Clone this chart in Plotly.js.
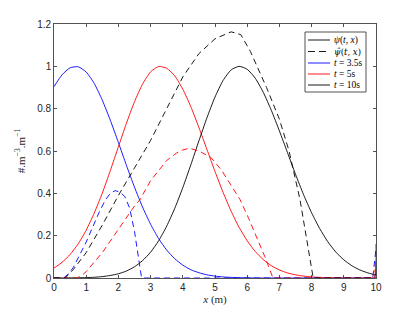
<!DOCTYPE html>
<html><head><meta charset="utf-8">
<script src="https://cdn.plot.ly/plotly-3.0.1.min.js"></script>
<style>html,body{margin:0;padding:0;background:#fff}#chart{width:415px;height:312px}</style>
</head><body><div id="chart"></div>
<script>
// shared x grid for the solid (psi) curves
const xs = [0,0.25,0.5,0.75,1,1.25,1.5,1.75,2,2.25,2.5,2.75,3,3.25,3.5,3.75,4,4.25,4.5,4.75,5,5.25,5.5,5.75,6,6.25,6.5,6.75,7,7.25,7.5,7.75,8,8.25,8.5,8.75,9,9.25,9.5,9.75,9.95,10];
const psi35 = [0.904,0.96,0.993,0.998,0.973,0.919,0.840,0.745,0.640,0.532,0.429,0.335,0.254,0.186,0.132,0.091,0.061,0.039,0.025,0.015,0.009,0.005,0.003,0.0014,0.0007,0,0,0,0,0,0,0,0,0,0,0,0,0,0,0,0,0.16];
const psi5  = [0.047,0.074,0.111,0.161,0.226,0.307,0.401,0.508,0.620,0.731,0.833,0.916,0.974,0.999,0.991,0.955,0.892,0.809,0.711,0.607,0.503,0.405,0.316,0.239,0.176,0.125,0.087,0.058,0.038,0.024,0.015,0.009,0.005,0.003,0.0015,0.001,0,0,0,0.001,0.003,0.06];
const psi10 = [0.0001,0.0002,0.0004,0.001,0.0019,0.0035,0.0066,0.012,0.020,0.033,0.053,0.082,0.122,0.176,0.245,0.329,0.427,0.535,0.648,0.757,0.855,0.933,0.983,1.0,0.986,0.944,0.877,0.792,0.695,0.593,0.490,0.394,0.308,0.234,0.172,0.123,0.086,0.058,0.038,0.024,0.016,0.015];
// psi-hat curves (dashed), each on its own x points
const xh35 = [0,0.3,0.45,0.6,0.8,1.0,1.2,1.4,1.6,1.75,1.9,2.05,2.2,2.35,2.5,2.6,2.72,6,9.9,10];
const yh35 = [0,0,0.02,0.05,0.11,0.17,0.24,0.31,0.37,0.40,0.413,0.405,0.385,0.33,0.22,0.12,0,0,0,0.14];
const xh5 = [0,0.7,0.85,1.0,1.5,2.0,2.5,2.67,3.0,3.5,3.8,4.0,4.2,4.5,4.87,5.2,5.5,5.78,6.05,6.3,6.55,6.8,9.9,10];
const yh5 = [0,0,0.01,0.03,0.12,0.23,0.34,0.37,0.46,0.555,0.59,0.605,0.613,0.60,0.57,0.51,0.44,0.37,0.28,0.19,0.10,0,0,0.08];
const xh10 = [0,0.35,0.6,1.0,1.5,2.0,2.5,3.0,3.5,4.0,4.5,5.0,5.5,5.8,6.1,6.4,6.6,7.0,7.3,7.64,7.85,8.05,10];
const yh10 = [0,0,0.04,0.12,0.25,0.39,0.52,0.65,0.8,0.95,1.06,1.13,1.163,1.15,1.07,0.97,0.9,0.75,0.6,0.37,0.18,0,0];

const xTicks = [0,1,2,3,4,5,6,7,8,9,10];
const yTicks = [0,0.2,0.4,0.6,0.8,1,1.2];
const yTickText = ['0','0.2','0.4','0.6','0.8','1','1.2'];
const legendLabels = ['<i>ψ</i>(<i>t</i>, <i>x</i>)','<i>ψ̂</i>(<i>t</i>, <i>x</i>)','<i>t</i> = 3.5s','<i>t</i> = 5s','<i>t</i> = 10s'];

const BLUE='#0000ff', RED='#ff0000', BLACK='#000000';
const DASH='6px,4px';
const traces = [
  {x:xs,y:psi35,mode:'lines',line:{color:BLUE,width:0.9,shape:'spline',smoothing:0.6}},
  {x:xs,y:psi5,mode:'lines',line:{color:RED,width:0.9,shape:'spline',smoothing:0.6}},
  {x:xs,y:psi10,mode:'lines',line:{color:BLACK,width:0.9,shape:'spline',smoothing:0.6}},
  {x:xh35,y:yh35,mode:'lines',line:{color:BLUE,width:0.9,dash:DASH}},
  {x:xh5,y:yh5,mode:'lines',line:{color:RED,width:0.9,dash:DASH}},
  {x:xh10,y:yh10,mode:'lines',line:{color:BLACK,width:0.9,dash:DASH}}
].map(t=>Object.assign(t,{showlegend:false,hoverinfo:'skip'}));

// custom legend (paper coords); plot area: x 54..376 px, y 24..278 px
const px = v => (v-54)/322, py = v => (278-v)/254;
const rows = [40,51.5,63,74,85];
const legColors = [BLACK,BLACK,BLUE,RED,BLACK];
const legDash = ['solid','7px,4px','solid','solid','solid'];
const SERIF = 'Liberation Serif, DejaVu Serif, serif';
const shapes = [{type:'rect',xref:'paper',yref:'paper',x0:px(305),x1:px(366),y0:py(92),y1:py(32),
  line:{color:'#262626',width:0.8},fillcolor:'#fff',layer:'above'}];
const annotations = [];
rows.forEach((r,i)=>{
  shapes.push({type:'line',xref:'paper',yref:'paper',x0:px(308),x1:px(330),y0:py(r),y1:py(r),
    line:{color:legColors[i],width:0.9,dash:legDash[i]},layer:'above'});
  annotations.push({xref:'paper',yref:'paper',x:px(332),y:py(r),xanchor:'left',yanchor:'middle',
    text:legendLabels[i],showarrow:false,font:{family:(i===1?'DejaVu Serif, Liberation Serif, serif':SERIF),size:(i===1?8.5:9.5),color:'#000'}});
});

const axisCommon = {showgrid:false,zeroline:false,showline:true,linecolor:'#262626',linewidth:0.8,
  mirror:'ticks',ticks:'inside',ticklen:3,tickcolor:'#262626',tickwidth:0.8,
  tickfont:{family:'Liberation Sans, Arial, sans-serif',size:10,color:'#262626'}};
const layout = {
  width:415,height:312,margin:{l:54,r:39,t:24,b:34},paper_bgcolor:'#fff',plot_bgcolor:'#fff',
  showlegend:false,
  xaxis:Object.assign({},axisCommon,{range:[0,10],tickvals:xTicks,ticktext:xTicks.map(String),
    title:{text:'<i>x</i> (m)',standoff:3,font:{family:SERIF,size:11,color:'#262626'}}}),
  yaxis:Object.assign({},axisCommon,{range:[0,1.2],tickvals:yTicks,ticktext:yTickText,
    title:{text:'#.m<sup>−3</sup>.m<sup>−1</sup>',standoff:9,font:{family:SERIF,size:11,color:'#262626'}}}),
  shapes:shapes,annotations:annotations
};
Plotly.newPlot('chart',traces,layout,{staticPlot:true,displayModeBar:false});
</script></body></html>
